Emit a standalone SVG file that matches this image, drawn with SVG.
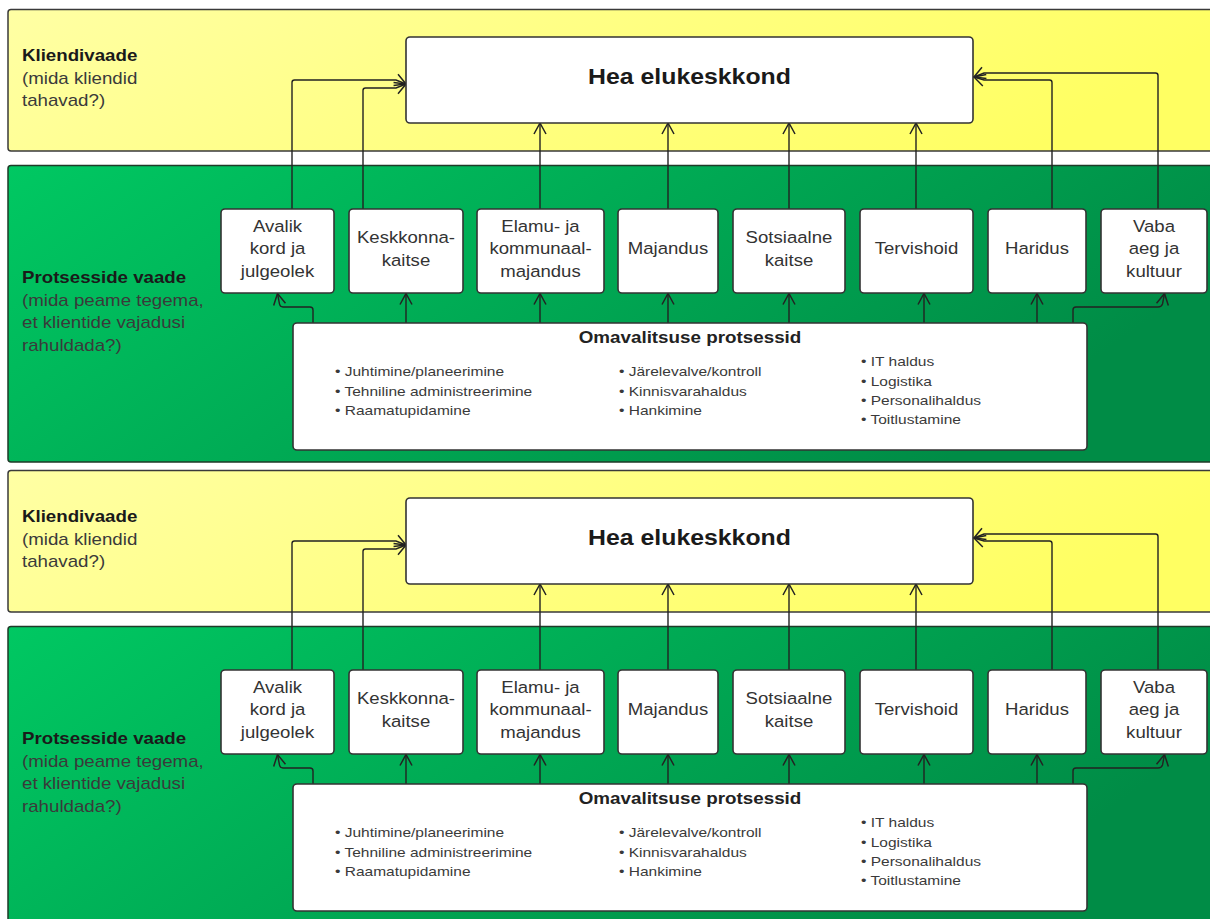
<svg xmlns="http://www.w3.org/2000/svg" width="1210" height="919" viewBox="0 0 1210 919">
  <defs>
    <linearGradient id="gy" x1="0" y1="0" x2="1" y2="0.2">
      <stop offset="0" stop-color="#ffffa4"/>
      <stop offset="1" stop-color="#ffff62"/>
    </linearGradient>
    <linearGradient id="gg" x1="0" y1="0" x2="1" y2="0.35">
      <stop offset="0" stop-color="#00c862"/>
      <stop offset="1" stop-color="#008c46"/>
    </linearGradient>
    <marker id="arr" viewBox="-12 -7 14 14" refX="0" refY="0" markerWidth="14" markerHeight="14" markerUnits="userSpaceOnUse" orient="auto">
      <path d="M-11,-6 L0,0 L-11,6" fill="none" stroke="#222" stroke-width="1.5"/>
    </marker>
    <style>
      .band-y { fill: url(#gy); stroke: #3a3a3a; stroke-width: 1.5; }
      .band-g { fill: url(#gg); stroke: #1f3a28; stroke-width: 1.5; }
      .node rect { fill: #fff; stroke: #333; stroke-width: 1.6; }
      .conn path { fill: none; stroke: #222; stroke-width: 1.4; marker-end: url(#arr); }
      text { font-family: "Liberation Sans", Arial, sans-serif; fill: #333; transform-box: fill-box; transform: scaleX(1.14); }
      .c { text-anchor: middle; transform-origin: center; }
      .l { transform-origin: left center; }
      .lbl { font-size: 16.3px; }
      .lane { font-size: 16.4px; fill: #3a3a3a; }
      .lane-h { font-weight: bold; fill: #1a1a1a; }
      .goal { font-size: 21.8px; font-weight: bold; fill: #1a1a1a; }
      .sub { font-size: 16.5px; font-weight: bold; fill: #222; }
      .li { font-size: 13.6px; fill: #3a3a3a; }
    </style>
  </defs>

  <!-- first panel -->
  <g id="panel-1">
    <g id="lane-client-1">
      <rect class="band-y" x="8" y="9.5" width="1215" height="141.5" rx="3"/>
      <text class="lane l" x="22"><tspan class="lane-h" x="22" y="61.5">Kliendivaade</tspan><tspan x="22" y="84">(mida kliendid</tspan><tspan x="22" y="106.5">tahavad?)</tspan></text>
    </g>
    <g id="lane-process-1">
      <rect class="band-g" x="8" y="165.5" width="1215" height="296.5" rx="3"/>
      <text class="lane l" x="22"><tspan class="lane-h" x="22" y="283.5">Protsesside vaade</tspan><tspan x="22" y="306">(mida peame tegema,</tspan><tspan x="22" y="328.5">et klientide vajadusi</tspan><tspan x="22" y="351">rahuldada?)</tspan></text>
    </g>

    <g id="connectors-1" class="conn">
      <!-- services to goal -->
      <path d="M292 209 V82.5 Q292 80 294.5 80 H396 L406 84"/>
      <path d="M363 209 V90.5 Q363 88 365.5 88 H396 L406 84"/>
      <path d="M540 209 V123"/>
      <path d="M668 209 V123"/>
      <path d="M789 209 V123"/>
      <path d="M916 209 V123"/>
      <path d="M1052 209 V82.5 Q1052 80 1049.5 80 H984 L974 77"/>
      <path d="M1158 209 V75.5 Q1158 73 1155.5 73 H984 L974 77"/>
      <!-- support processes to services -->
      <path d="M313 323 V310 Q313 307 310 307 H283 Q280 307 279.5 304 L277.5 293.5"/>
      <path d="M406 323 V293.5"/>
      <path d="M540 323 V293.5"/>
      <path d="M668 323 V293.5"/>
      <path d="M789 323 V293.5"/>
      <path d="M924 323 V293.5"/>
      <path d="M1037 323 V293.5"/>
      <path d="M1073 323 V310 Q1073 307 1076 307 H1158 Q1161.5 307 1162.5 304 L1164.5 293.5"/>
    </g>

    <g id="goal-1" class="node">
      <rect x="406" y="37" width="567" height="86" rx="4"/>
      <text class="goal c" x="689.5" y="84">Hea elukeskkond</text>
    </g>

    <g id="svc-avalik-1" class="node">
      <rect x="221" y="209" width="113" height="84" rx="4"/>
      <text class="lbl c" x="277.5"><tspan x="277.5" y="232">Avalik</tspan><tspan x="277.5" y="254.5">kord ja</tspan><tspan x="277.5" y="277">julgeolek</tspan></text>
    </g>
    <g id="svc-keskkond-1" class="node">
      <rect x="349" y="209" width="114" height="84" rx="4"/>
      <text class="lbl c" x="406"><tspan x="406" y="243.2">Keskkonna-</tspan><tspan x="406" y="265.7">kaitse</tspan></text>
    </g>
    <g id="svc-elamu-1" class="node">
      <rect x="477" y="209" width="127" height="84" rx="4"/>
      <text class="lbl c" x="540.5"><tspan x="540.5" y="232">Elamu- ja</tspan><tspan x="540.5" y="254.5">kommunaal-</tspan><tspan x="540.5" y="277">majandus</tspan></text>
    </g>
    <g id="svc-majandus-1" class="node">
      <rect x="618" y="209" width="100" height="84" rx="4"/>
      <text class="lbl c" x="668" y="254.5">Majandus</text>
    </g>
    <g id="svc-sotsiaal-1" class="node">
      <rect x="733" y="209" width="112" height="84" rx="4"/>
      <text class="lbl c" x="789"><tspan x="789" y="243.2">Sotsiaalne</tspan><tspan x="789" y="265.7">kaitse</tspan></text>
    </g>
    <g id="svc-tervis-1" class="node">
      <rect x="860" y="209" width="113" height="84" rx="4"/>
      <text class="lbl c" x="916.5" y="254.5">Tervishoid</text>
    </g>
    <g id="svc-haridus-1" class="node">
      <rect x="988" y="209" width="98" height="84" rx="4"/>
      <text class="lbl c" x="1037" y="254.5">Haridus</text>
    </g>
    <g id="svc-vaba-1" class="node">
      <rect x="1101" y="209" width="106" height="84" rx="4"/>
      <text class="lbl c" x="1154"><tspan x="1154" y="232">Vaba</tspan><tspan x="1154" y="254.5">aeg ja</tspan><tspan x="1154" y="277">kultuur</tspan></text>
    </g>

    <g id="processes-1" class="node">
      <rect x="293" y="323" width="794" height="127" rx="4"/>
      <text class="sub c" x="690" y="343">Omavalitsuse protsessid</text>
      <text class="li l" x="335"><tspan x="335" y="376.5">• Juhtimine/planeerimine</tspan><tspan x="335" y="395.7">• Tehniline administreerimine</tspan><tspan x="335" y="414.9">• Raamatupidamine</tspan></text>
      <text class="li l" x="619"><tspan x="619" y="376.5">• Järelevalve/kontroll</tspan><tspan x="619" y="395.7">• Kinnisvarahaldus</tspan><tspan x="619" y="414.9">• Hankimine</tspan></text>
      <text class="li l" x="861"><tspan x="861" y="366.5">• IT haldus</tspan><tspan x="861" y="385.7">• Logistika</tspan><tspan x="861" y="404.9">• Personalihaldus</tspan><tspan x="861" y="424.1">• Toitlustamine</tspan></text>
    </g>
  </g>

  <!-- second panel, same layout shifted down -->
  <g id="panel-2" transform="translate(0 461)">
    <g id="lane-client-2">
      <rect class="band-y" x="8" y="9.5" width="1215" height="141.5" rx="3"/>
      <text class="lane l" x="22"><tspan class="lane-h" x="22" y="61.5">Kliendivaade</tspan><tspan x="22" y="84">(mida kliendid</tspan><tspan x="22" y="106.5">tahavad?)</tspan></text>
    </g>
    <g id="lane-process-2">
      <rect class="band-g" x="8" y="165.5" width="1215" height="296.5" rx="3"/>
      <text class="lane l" x="22"><tspan class="lane-h" x="22" y="283.5">Protsesside vaade</tspan><tspan x="22" y="306">(mida peame tegema,</tspan><tspan x="22" y="328.5">et klientide vajadusi</tspan><tspan x="22" y="351">rahuldada?)</tspan></text>
    </g>

    <g id="connectors-2" class="conn">
      <path d="M292 209 V82.5 Q292 80 294.5 80 H396 L406 84"/>
      <path d="M363 209 V90.5 Q363 88 365.5 88 H396 L406 84"/>
      <path d="M540 209 V123"/>
      <path d="M668 209 V123"/>
      <path d="M789 209 V123"/>
      <path d="M916 209 V123"/>
      <path d="M1052 209 V82.5 Q1052 80 1049.5 80 H984 L974 77"/>
      <path d="M1158 209 V75.5 Q1158 73 1155.5 73 H984 L974 77"/>
      <path d="M313 323 V310 Q313 307 310 307 H283 Q280 307 279.5 304 L277.5 293.5"/>
      <path d="M406 323 V293.5"/>
      <path d="M540 323 V293.5"/>
      <path d="M668 323 V293.5"/>
      <path d="M789 323 V293.5"/>
      <path d="M924 323 V293.5"/>
      <path d="M1037 323 V293.5"/>
      <path d="M1073 323 V310 Q1073 307 1076 307 H1158 Q1161.5 307 1162.5 304 L1164.5 293.5"/>
    </g>

    <g id="goal-2" class="node">
      <rect x="406" y="37" width="567" height="86" rx="4"/>
      <text class="goal c" x="689.5" y="84">Hea elukeskkond</text>
    </g>

    <g id="svc-avalik-2" class="node">
      <rect x="221" y="209" width="113" height="84" rx="4"/>
      <text class="lbl c" x="277.5"><tspan x="277.5" y="232">Avalik</tspan><tspan x="277.5" y="254.5">kord ja</tspan><tspan x="277.5" y="277">julgeolek</tspan></text>
    </g>
    <g id="svc-keskkond-2" class="node">
      <rect x="349" y="209" width="114" height="84" rx="4"/>
      <text class="lbl c" x="406"><tspan x="406" y="243.2">Keskkonna-</tspan><tspan x="406" y="265.7">kaitse</tspan></text>
    </g>
    <g id="svc-elamu-2" class="node">
      <rect x="477" y="209" width="127" height="84" rx="4"/>
      <text class="lbl c" x="540.5"><tspan x="540.5" y="232">Elamu- ja</tspan><tspan x="540.5" y="254.5">kommunaal-</tspan><tspan x="540.5" y="277">majandus</tspan></text>
    </g>
    <g id="svc-majandus-2" class="node">
      <rect x="618" y="209" width="100" height="84" rx="4"/>
      <text class="lbl c" x="668" y="254.5">Majandus</text>
    </g>
    <g id="svc-sotsiaal-2" class="node">
      <rect x="733" y="209" width="112" height="84" rx="4"/>
      <text class="lbl c" x="789"><tspan x="789" y="243.2">Sotsiaalne</tspan><tspan x="789" y="265.7">kaitse</tspan></text>
    </g>
    <g id="svc-tervis-2" class="node">
      <rect x="860" y="209" width="113" height="84" rx="4"/>
      <text class="lbl c" x="916.5" y="254.5">Tervishoid</text>
    </g>
    <g id="svc-haridus-2" class="node">
      <rect x="988" y="209" width="98" height="84" rx="4"/>
      <text class="lbl c" x="1037" y="254.5">Haridus</text>
    </g>
    <g id="svc-vaba-2" class="node">
      <rect x="1101" y="209" width="106" height="84" rx="4"/>
      <text class="lbl c" x="1154"><tspan x="1154" y="232">Vaba</tspan><tspan x="1154" y="254.5">aeg ja</tspan><tspan x="1154" y="277">kultuur</tspan></text>
    </g>

    <g id="processes-2" class="node">
      <rect x="293" y="323" width="794" height="127" rx="4"/>
      <text class="sub c" x="690" y="343">Omavalitsuse protsessid</text>
      <text class="li l" x="335"><tspan x="335" y="376.5">• Juhtimine/planeerimine</tspan><tspan x="335" y="395.7">• Tehniline administreerimine</tspan><tspan x="335" y="414.9">• Raamatupidamine</tspan></text>
      <text class="li l" x="619"><tspan x="619" y="376.5">• Järelevalve/kontroll</tspan><tspan x="619" y="395.7">• Kinnisvarahaldus</tspan><tspan x="619" y="414.9">• Hankimine</tspan></text>
      <text class="li l" x="861"><tspan x="861" y="366.5">• IT haldus</tspan><tspan x="861" y="385.7">• Logistika</tspan><tspan x="861" y="404.9">• Personalihaldus</tspan><tspan x="861" y="424.1">• Toitlustamine</tspan></text>
    </g>
  </g>
</svg>
